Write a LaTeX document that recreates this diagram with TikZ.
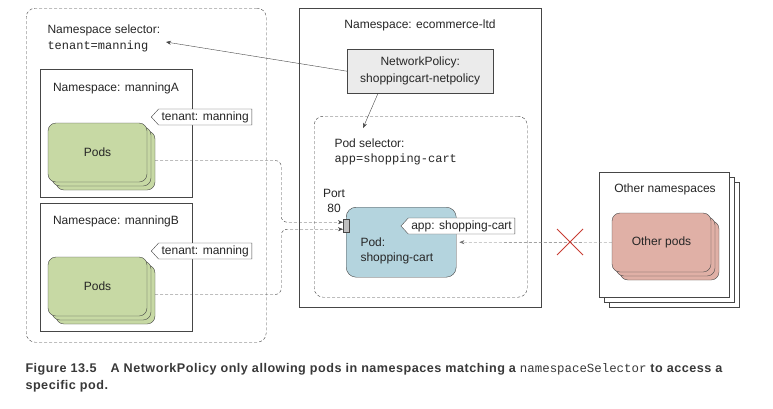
\documentclass[tikz,border=0pt]{standalone}
\usepackage{fontspec}
\setmainfont{Liberation Sans}
\setmonofont{Liberation Mono}
\newfontfamily\capfont[LetterSpace=4.0]{Liberation Sans}
\usetikzlibrary{calc,shapes.symbols,arrows.meta}
\definecolor{podgreen}{RGB}{199,217,164}
\definecolor{podblue}{RGB}{180,212,222}
\definecolor{podred}{RGB}{224,176,166}
\definecolor{linegray}{RGB}{70,70,70}
\definecolor{crossred}{RGB}{200,60,50}
\newcommand*{\CardStack}[5]{% #1 = name, #2/#3 = top left, #4 = fill, #5 = text
\foreach \d in {8,4} {
\node [card, fill=#4] (#1-\d)
at (#2+49.5+\d,#3+29.5+\d) {};
}%
\node [card, fill=#4] (#1) at (#2+49.5,#3+29.5) {#5};
}

\begin{document}
\begin{tikzpicture}[x=1pt,y=-1pt,
    every node/.style={font=\fontsize{12}{15}\selectfont, text=black!85},
    nsbox/.style={draw=linegray, fill=white, anchor=north west, inner sep=0pt},
    selbox/.style={draw=linegray, dash pattern=on 3pt off 2pt, rounded corners=9pt, anchor=north west, inner sep=0pt},
    card/.style={draw=linegray, rounded corners=8pt, minimum width=99pt, minimum height=59pt, inner sep=0pt},
    tag/.style={shape=signal, signal to=west, signal pointer angle=95, draw=linegray, fill=white,
      inner xsep=3pt, inner ysep=1pt, minimum height=16pt, anchor=east},
    link/.style={draw=linegray, dash pattern=on 3pt off 2pt, rounded corners=6pt, -{Stealth[length=5pt,width=4pt]}}]

\useasboundingbox (0,0) rectangle (773,408);

% namespace selector side
\node [selbox, minimum width=240pt, minimum height=334pt] (nssel) at (26,8) {};
\node [anchor=west] (nsseltext) at (44,30) {Namespace selector:};
\node [anchor=west] (nsselval) at (44,46) {\texttt{tenant=manning}};
\coordinate (selpt) at (166,42);

\node [nsbox, minimum width=152pt, minimum height=128pt] (nsA) at (40,69) {};
\node (nsAtext) at (116,88) {Namespace: manningA};
\node [nsbox, minimum width=152pt, minimum height=128pt] (nsB) at (40,203) {};
\node (nsBtext) at (116,221) {Namespace: manningB};
\CardStack{podsA}{48}{123}{podgreen}{Pods}
\CardStack{podsB}{48}{257}{podgreen}{Pods}
\node [tag] (tagA) at (252,117) {tenant: manning};
\node [tag] (tagB) at (252,251) {tenant: manning};

% ecommerce-ltd
\node [nsbox, minimum width=242pt, minimum height=299pt] (nsE) at (299,8) {};
\node (nsEtext) at (420,25) {Namespace: ecommerce-ltd};
\node [nsbox, fill=black!8, minimum width=146pt, minimum height=44pt, align=center,
  font=\fontsize{12}{17}\selectfont] (netpol) at (347,49) {NetworkPolicy:\\shoppingcart-netpolicy};
\node [selbox, minimum width=213pt, minimum height=181pt] (podsel) at (314,116) {};
\node [anchor=west] (podseltext) at (331,143) {Pod selector:};
\node [anchor=west] (podselval) at (331,159) {\texttt{app=shopping-cart}};
\coordinate (podselpt) at (363,128);
\node [align=center] (porttext) at (334,201) {Port\\80};
\node [nsbox, draw=linegray, fill=podblue, rounded corners=10pt, minimum width=110pt, minimum height=70pt] (pod) at (346,207) {};
\node [anchor=west, align=left] (podtext) at (357,251) {Pod:\\shopping-cart};
\node [nsbox, fill=black!25, minimum width=6pt, minimum height=13pt] (port) at (343,219) {};
\node [tag] (tagapp) at (515,226) {app: shopping-cart};

% other namespaces
\foreach \d in {10,5} {
\node [nsbox, minimum width=130pt, minimum height=125pt] (nsO-\d) at (599+\d,172+\d) {};
}
\node [nsbox, minimum width=130pt, minimum height=125pt] (nsO) at (599,172) {};
\node (nsOtext) at (665,189) {Other namespaces};
\CardStack{podsO}{612}{213}{podred}{Other pods}

% connectors
\draw [-{Stealth[length=5pt,width=4pt]}, linegray] (netpol.west) -- (selpt);
\draw [-{Stealth[length=5pt,width=4pt]}, linegray] ([xshift=31pt]netpol.south west) -- (podselpt);
\draw [link] (podsA-8.east) -- ++(126,0) |- ([yshift=3.5pt]port.west);
\draw [link] (podsB-8.east) -- ++(126,0) |- ([yshift=-3.5pt]port.west);
\draw [link, draw=black!55, shorten >=3pt] (podsO.west) -- (pod.east);
\coordinate (cross) at (570,242);
\draw [crossred, line width=1pt] ($(cross)+(-13,-13)$) -- ($(cross)+(13,13)$)
  ($(cross)+(-13,13)$) -- ($(cross)+(13,-13)$);

% caption
\node [anchor=north west, align=left, text=black!78, font=\capfont\bfseries\fontsize{12.6}{17}\selectfont] (caption) at (22,360)
  {Figure 13.5\hspace{14pt}A NetworkPolicy only allowing pods in namespaces matching a {\mdseries\ttfamily\fontsize{12.4}{17}\selectfont namespaceSelector} to access a\\specific pod.};
\end{tikzpicture}
\end{document}
